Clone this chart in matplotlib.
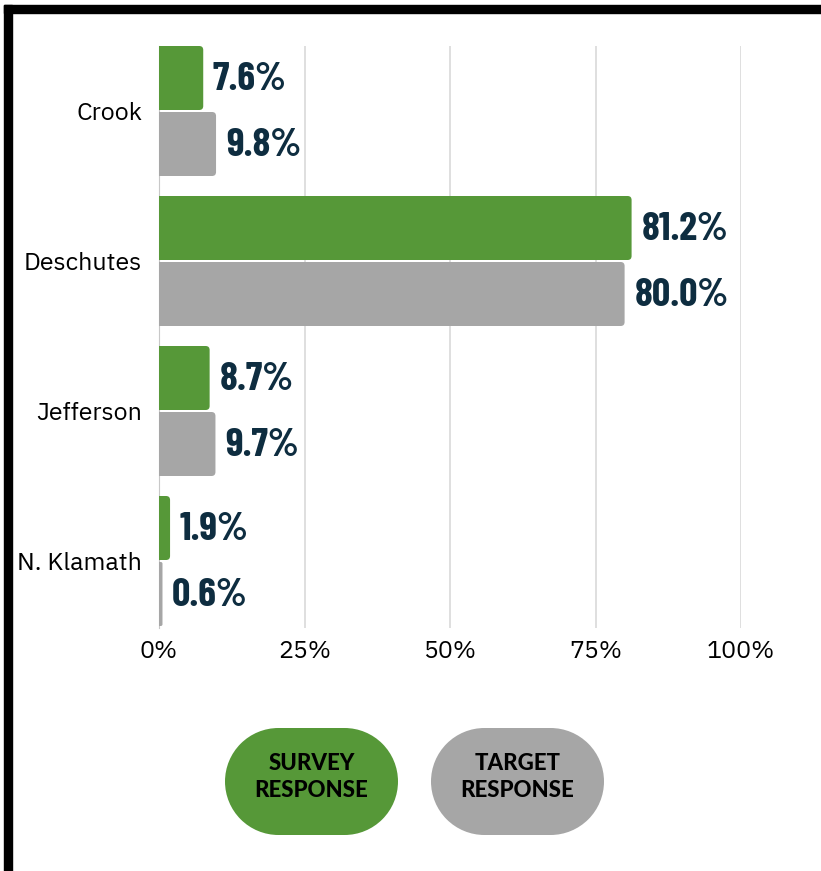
import matplotlib.pyplot as plt
from matplotlib import font_manager
from matplotlib.patches import FancyBboxPatch, Rectangle, Circle
import numpy as np

# data
counties = ['Crook', 'Deschutes', 'Jefferson', 'N. Klamath']
survey = [7.6, 81.2, 8.7, 1.9]
target = [9.8, 80.0, 9.7, 0.6]
xticks = [0, 25, 50, 75, 100]
xtick_labels = ['0%', '25%', '50%', '75%', '100%']

green = '#569838'
gray = '#a6a6a6'
navy = '#0e2d40'


def pick(names, min_weight=400):
    # first family that has a face at least this heavy
    for n in names:
        for f in font_manager.fontManager.ttflist:
            if f.name == n and int(f.weight) >= min_weight:
                return n
    return 'DejaVu Sans'


label_font = pick(['Barlow Condensed', 'Oswald'], 700)
tick_font = pick(['IBM Plex Sans', 'Noto Sans', 'Open Sans'])
legend_font = pick(['League Spartan', 'Montserrat', 'Lato'], 800)

W, H = 821, 871
fig = plt.figure(figsize=(W / 100, H / 100), dpi=100)
fig.patch.set_facecolor('white')

# background axes in pixel units for frame and legend pills
bg = fig.add_axes([0, 0, 1, 1], zorder=0)
bg.set_xlim(0, W)
bg.set_ylim(H, 0)
bg.axis('off')
bg.add_patch(Rectangle((4, 5), W - 4, 8, color='black'))
bg.add_patch(Rectangle((4, 5), 8, H - 5, color='black'))

pw, ph = 173, 107
r = ph / 2
pills = [(225, 'SURVEY\nRESPONSE', green), (431, 'TARGET\nRESPONSE', gray)]
for x0, txt, col in pills:
    bg.add_patch(Rectangle((x0 + r, 728), pw - 2 * r, ph, color=col, lw=0))
    bg.add_patch(Circle((x0 + r, 728 + r), r, color=col, lw=0))
    bg.add_patch(Circle((x0 + pw - r, 728 + r), r, color=col, lw=0))
    bg.text(x0 + pw / 2, 777, txt, ha='center', va='center', fontsize=16,
            fontweight='black', family=legend_font, color='black',
            linespacing=1.3)

# main chart
ax_l, ax_r, ax_t, ax_b = 159, 741, 46, 628
ax = fig.add_axes([ax_l / W, 1 - ax_b / H, (ax_r - ax_l) / W, (ax_b - ax_t) / H], zorder=1)
ax.set_facecolor('none')

y = np.arange(len(counties))
bh = 64 / 150
off = 33 / 150
ax.set_xlim(0, 100)
ax.set_ylim(3 + 67 / 150, -65 / 150)

px_x = (ax_r - ax_l) / 100
px_y = 150.0
r_px = 4
for vals, col, d in [(survey, green, -off), (target, gray, off)]:
    for yi, v in zip(y, vals):
        rx = min(r_px, v * px_x / 2)
        ax.add_patch(FancyBboxPatch((-3, yi + d - bh / 2), v + 3, bh,
                                    boxstyle=f'round,pad=0,rounding_size={rx / px_x}',
                                    mutation_aspect=px_x / px_y,
                                    color=col, lw=0, zorder=3))
        ax.annotate(f'{v:.1f}%', (v, yi + d), xytext=(7, -1), textcoords='offset points',
                    ha='left', va='center', fontsize=29, fontweight='bold',
                    family=label_font, color=navy, zorder=4)

ax.set_xticks(xticks)
ax.set_xticklabels(xtick_labels, family=tick_font, fontsize=18)
ax.set_yticks(y)
ax.set_yticklabels(counties, family=tick_font, fontsize=18)
ax.tick_params(length=0)
ax.tick_params(axis='x', pad=9)
ax.tick_params(axis='y', pad=12)
ax.xaxis.grid(True, color='#d9d9d9', lw=1.2)
ax.set_axisbelow(True)
for s in ['top', 'right', 'bottom']:
    ax.spines[s].set_visible(False)
ax.spines['left'].set_color('#c8c8c8')

fig.savefig('out.png', dpi=100)
